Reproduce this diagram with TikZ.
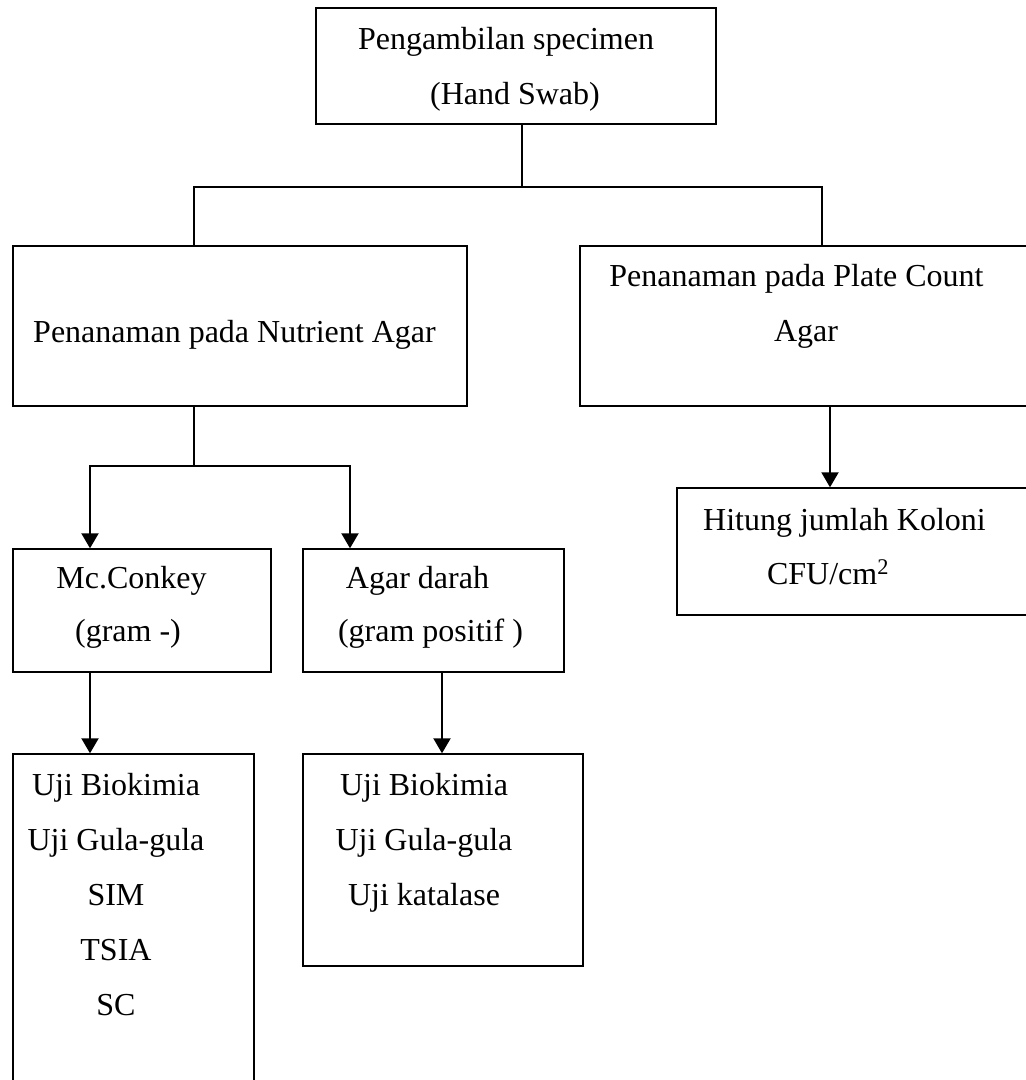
\documentclass[tikz,border=0pt]{standalone}
\usepackage{fontspec}
\setmainfont{Liberation Serif}
\usetikzlibrary{arrows.meta}
\usetikzlibrary{positioning}

\begin{document}
\begin{tikzpicture}[x=1pt, y=-1pt]
	\useasboundingbox (0,0) rectangle (1026,1080);
	\clip (0,0) rectangle (1026,1080);
	\fill[white] (0,0) rectangle (1026,1080);

	% boxes
	\begin{scope}[every node/.style={rectangle, draw, line width=1.4pt, inner sep=0pt}]
		\node[minimum width=400pt, minimum height=116pt] (A) at (516,66) {};
		\node[minimum width=454pt, minimum height=160pt] (NA) at (240,326) {};
		\node[minimum width=460pt, minimum height=160pt] (PCA) at (810,326) {};
		\node[minimum width=258pt, minimum height=123pt] (MC) at (142,610.5) {};
		\node[minimum width=261pt, minimum height=123pt] (AD) at (433.5,610.5) {};
		\node[minimum width=363pt, minimum height=127pt] (HJ) at (858.5,551.5) {};
		\node[minimum width=241pt, minimum height=340pt] (UL) at (133.5,924) {};
		\node[minimum width=280pt, minimum height=212pt] (UR) at (443,860) {};
	\end{scope}

	% texts
	\begin{scope}[every node/.style={anchor=base, inner sep=0pt, font=\fontsize{32}{38}\selectfont}]
		\node (tA1) at (506,49) {Pengambilan specimen};
		\node (tA2) at (515,104) {(Hand Swab)};
		\node (tNA) at (234.5,342) {Penanaman pada Nutrient Agar};
		\node (tPCA1) at (796.5,286) {Penanaman pada Plate Count};
		\node (tPCA2) at (806,341) {Agar};
		\node (tMC1) at (131.5,588) {Mc.Conkey};
		\node (tMC2) at (128,641) {(gram -)};
		\node (tAD1) at (417.5,588) {Agar darah};
		\node (tAD2) at (430.5,641) {(gram positif )};
		\node (tHJ1) at (844.5,530) {Hitung jumlah Koloni};
		\node (tHJ2) at (828,584) {CFU/cm\textsuperscript{2}};
		\foreach \txt [count=\i] in {Uji Biokimia, Uji Gula-gula, SIM, TSIA, SC}
			\node (tUL\i) at (116,740+55*\i) {\txt};
		\foreach \txt [count=\i] in {Uji Biokimia, Uji Gula-gula, Uji katalase}
			\node (tUR\i) at (424,740+55*\i) {\txt};
	\end{scope}

	% connectors
	\begin{scope}[>={Triangle[width=17pt, length=15pt]}, line width=1.4pt]
		\coordinate (a1) at (522,187);
		\coordinate (a2) at (194,187);
		\coordinate (a3) at (822,187);
		\coordinate (b1) at (194,466);
		\coordinate (b2) at (90,466);
		\coordinate (b3) at (350,466);
		\coordinate (c1) at (830,0);
		\coordinate (d1) at (90,0);
		\coordinate (d2) at (442,0);

		\draw (a1 |- A.south) -- (a1);
		\draw (a2 |- NA.north) -- (a2) -- (a3) -- (a3 |- PCA.north);
		\draw (b1 |- NA.south) -- (b1);
		\draw[->, line width=2pt] (b1) -| (b2 |- MC.north);
		\draw[->, line width=2pt] (b1) -| (b3 |- AD.north);
		\draw[->, line width=2pt] (c1 |- PCA.south) -- (c1 |- HJ.north);
		\draw[->, line width=2pt] (d1 |- MC.south) -- (d1 |- UL.north);
		\draw[->, line width=2pt] (d2 |- AD.south) -- (d2 |- UR.north);
	\end{scope}
\end{tikzpicture}
\end{document}
